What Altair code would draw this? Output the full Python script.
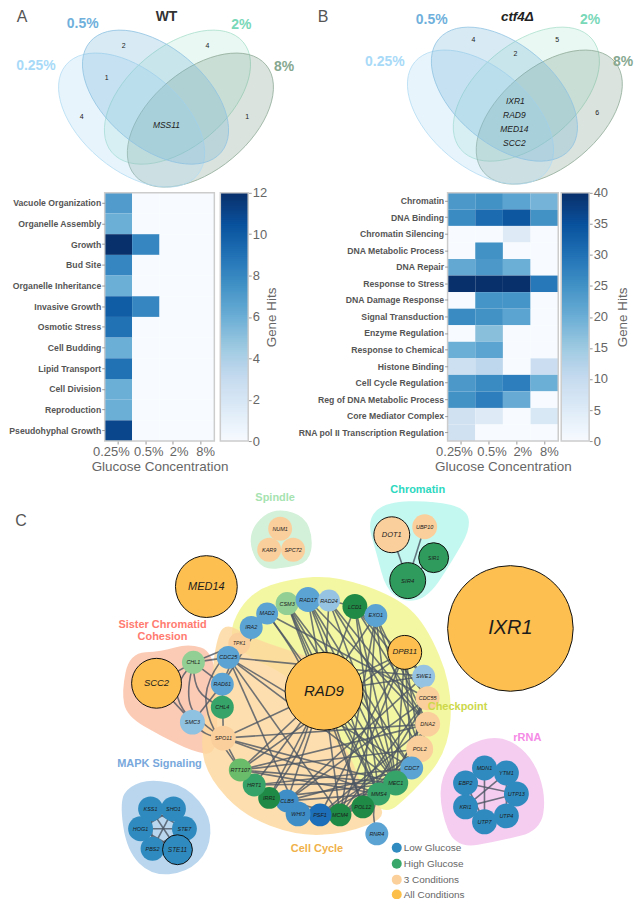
import altair as alt
import numpy as np
import pandas as pd

FONT = "Liberation Sans"
# ---------- heat maps
concs = ["0.25%", "0.5%", "2%", "8%"]
cats_a = ["Vacuole  Organization", "Organelle  Assembly", "Growth", "Bud Site", "Organelle Inheritance",
          "Invasive Growth", "Osmotic Stress", "Cell Budding", "Lipid Transport", "Cell Division",
          "Reproduction", "Pseudohyphal Growth"]
vals_a = [[7, 0, 0, 0], [6, 0, 0, 0], [12, 8, 0, 0], [8, 0, 0, 0], [6, 0, 0, 0], [10, 8, 0, 0],
          [9, 0, 0, 0], [6, 0, 0, 0], [9, 0, 0, 0], [6, 0, 0, 0], [6, 0, 0, 0], [11, 0, 0, 0]]
cats_b = ["Chromatin", "DNA Binding", "Chromatin Silencing", "DNA Metabolic Process", "DNA Repair",
          "Response  to Stress", "DNA Damage Response", "Signal Transduction", "Enzyme Regulation",
          "Response to Chemical", "Histone Binding", "Cell Cycle Regulation", "Reg of DNA Metabolic Process",
          "Core Mediator Complex", "RNA pol II Transcription Regulation"]
vals_b = [[24, 25, 22, 19], [26, 31, 34, 25], [0, 0, 5, 0], [0, 25, 0, 0], [21, 24, 20, 0],
          [40, 40, 40, 29], [0, 24.5, 24.5, 0], [26, 25, 22, 0], [0, 17, 0, 0], [20, 22, 0, 0],
          [8.5, 11, 0, 9], [24, 26, 28, 20], [25, 28, 20.5, 0], [8, 5, 0, 6], [8, 0, 0, 0]]
blues = ["#f7fbff", "#deebf7", "#c6dbef", "#9ecae1", "#6baed6", "#4292c6", "#2171b5", "#08519c", "#08306b"]
GREY = "#666666"

# ---------- venn (image pixel coordinates)
venn_sets = ["0.25%", "0.5%", "2%", "8%"]
venn_fill = ["#a8d8f5", "#6aaed6", "#7fd6b5", "#6a9078"]
venn_line = ["#b4dcf2", "#8fc3e2", "#a9e0cc", "#8fab98"]
venn_alpha = [0.27, 0.26, 0.17, 0.25]
venn_angle = [40, 40, -40, -40]
venn_order = [2, 3, 0, 1]
venn_a_xy = [(130, 118), (154, 95), (176, 95), (199, 118)]
venn_b_xy = [(480, 115), (504, 92), (526, 92), (549, 115)]
venn_colors = ["#a8daf8", "#6fb0dc", "#78d8b8", "#86a890"]
venn_a_lab = [(34, 64), (81, 22), (240, 23), (283, 65)]
venn_b_lab = [(384, 60), (431, 18), (590, 18), (623, 60)]
counts_a = [("2", 122, 44), ("4", 206, 44), ("1", 105, 76), ("4", 80, 115), ("1", 246, 115)]
counts_b = [("4", 473, 38), ("5", 557, 38), ("2", 515, 52), ("6", 597, 111)]
genes_ab = [("MSS11", 165, 123), ("IXR1", 515, 99), ("RAD9", 514, 113), ("MED14", 514, 127), ("SCC2", 514, 141)]

# ---------- network
LB, LB2, LB3, MB = "#5ba3d3", "#97c3e2", "#3f8ec8", "#2f8bbf"
G1, G2, G3, G4 = "#92cf95", "#36a368", "#1f8a45", "#6abb6a"
P, O = "#fbcf9c", "#fdbf4f"
nodes = [
    ("NUM1", 279, 527, 12, P, 0, 5.5), ("KAR9", 268, 548, 12, P, 0, 5.5), ("SPC72", 292, 548, 12, P, 0, 5.5),
    ("DOT1", 391, 533, 18, P, 1, 7.5), ("UBP10", 424, 525, 12.5, P, 0, 5.5), ("SIR1", 433, 556, 15, "#2f9c5e", 1, 5),
    ("SIR4", 407, 579, 18, "#2f9c5e", 1, 6),
    ("MED14", 205, 585, 31, O, 1, 11), ("IXR1", 510, 627, 63, O, 1, 20), ("SCC2", 155, 682, 25, O, 1, 9.5),
    ("CHL1", 192, 661, 11.5, G1, 0, 5.5), ("SMC3", 191, 721, 12.5, "#8fc1e0", 0, 5.5),
    ("TPK1", 238, 642, 11, P, 0, 5), ("IRA2", 250, 626, 11.5, LB, 0, 5.5), ("MAD2", 266, 612, 11, LB, 0, 5.5),
    ("CSM3", 286, 602, 11.5, G1, 0, 5.5), ("RAD17", 307, 598, 12.5, LB, 0, 5.5), ("RAD24", 328, 599, 11, LB2, 0, 5.5),
    ("LCD1", 354, 605, 12.5, G3, 0, 5.5), ("EXO1", 375, 614, 11.5, LB, 0, 5.5), ("DPB11", 404, 651, 17, O, 1, 8),
    ("SWE1", 423, 675, 11.5, LB2, 0, 5.5), ("CDC55", 427, 697, 12, P, 0, 5.5), ("DNA2", 427, 723, 12.5, P, 0, 5.5),
    ("POL2", 419, 748, 13.5, P, 0, 5.5), ("CDC7", 411, 767, 11.5, LB, 0, 5.5), ("MEC1", 395, 782, 12.5, G2, 0, 5.5),
    ("MMS4", 378, 793, 11.5, G2, 0, 5.5), ("POL12", 362, 806, 11.5, G3, 0, 5.5), ("MCM4", 339, 814, 11.5, G3, 0, 5.5),
    ("PSF1", 319, 814, 11.5, "#1c6fb8", 0, 5.5), ("WHI3", 297, 813, 12.5, LB3, 0, 5.5), ("CLB5", 286, 800, 11.5, LB3, 0, 5.5),
    ("IRR1", 268, 797, 11, G3, 0, 5.5), ("HRT1", 253, 784, 11.5, G2, 0, 5.5), ("RTT107", 239, 769, 11.5, G4, 0, 5.5),
    ("SPO11", 222, 737, 12.5, P, 0, 5.5), ("CDC25", 227, 656, 11.5, LB, 0, 5.5), ("RAD61", 221, 683, 11.5, LB, 0, 5.5),
    ("CHL4", 221, 706, 11.5, G2, 0, 5.5), ("RNR4", 376, 833, 11.5, LB, 0, 5.5),
    ("RAD9", 323, 690, 39, O, 1, 15),
    ("KSS1", 149, 808, 12.5, MB, 0, 5.5), ("SHO1", 172, 808, 12.5, MB, 0, 5.5), ("HOG1", 139, 828, 12.5, MB, 0, 5.5),
    ("STE7", 183, 828, 12.5, MB, 0, 5.5), ("PBS2", 151, 848, 12, MB, 0, 5.5), ("STE11", 176, 849, 15, MB, 1, 6.5),
    ("MDN1", 484, 767, 12.5, MB, 0, 5.5), ("YTM1", 506, 772, 12.5, MB, 0, 5.5), ("UTP13", 516, 793, 12.5, MB, 0, 5.5),
    ("UTP4", 506, 815, 12.5, MB, 0, 5.5), ("UTP7", 484, 821, 12.5, MB, 0, 5.5), ("KRI1", 465, 806, 12.5, MB, 0, 5.5),
    ("EBP2", 465, 782, 12.5, MB, 0, 5.5),
]
edge_text = """CSM3-MEC1 CSM3-MMS4 CSM3-POL12 CSM3-CDC7 CSM3-RAD9 RAD17-MEC1 RAD17-MMS4 RAD17-DNA2 RAD17-RAD9 RAD17-RAD24
RAD17-CDC7 RAD24-MEC1 RAD24-RAD9 RAD24-DNA2 RAD24-POL2 LCD1-MEC1 LCD1-EXO1 LCD1-RAD9 LCD1-MMS4 LCD1-DNA2 LCD1-CDC55
LCD1-SWE1 LCD1-RAD24 EXO1-MEC1 EXO1-DNA2 EXO1-MCM4 EXO1-POL12 EXO1-RAD9 EXO1-POL2 DPB11-RAD9 DPB11-POL2 DPB11-MEC1
DPB11-SWE1 DPB11-CDC7 DPB11-PSF1 DPB11-MCM4 SWE1-CDC55 SWE1-CLB5 SWE1-RAD9 SWE1-CDC7 CDC55-MCM4 CDC55-MAD2 CDC55-POL12
DNA2-POL2 DNA2-MEC1 DNA2-MMS4 DNA2-PSF1 DNA2-SPO11 DNA2-RTT107 POL2-MCM4 POL2-POL12 POL2-PSF1 POL2-RTT107 CDC7-MCM4
CDC7-CLB5 CDC7-PSF1 CDC7-HRT1 MEC1-RTT107 MEC1-SPO11 MEC1-IRR1 MEC1-POL12 MEC1-MMS4 MEC1-RAD9 MEC1-HRT1 MMS4-SPO11
MMS4-RTT107 MMS4-CLB5 MMS4-RAD9 POL12-MCM4 POL12-PSF1 POL12-RAD9 MCM4-PSF1 MCM4-CLB5 MCM4-RAD9 PSF1-CLB5 WHI3-CLB5
CLB5-CDC55 CLB5-RAD9 IRR1-RAD9 IRR1-HRT1 HRT1-RAD9 RTT107-RAD9 RTT107-SPO11 RTT107-DPB11 SPO11-RAD9 SPO11-RAD61
SMC3-RAD61 SMC3-SCC2 CHL1-SCC2 CHL1-TPK1 CHL1-CDC25 CHL1-RAD61 RAD61-TPK1 RAD61-MAD2 TPK1-IRA2 TPK1-CDC25 MAD2-CDC25
MAD2-RAD9 CDC25-MCM4 CDC25-MEC1 CDC25-WHI3 CDC25-SWE1 CDC25-CDC7 CDC7-MEC1
SIR4-DOT1 SIR4-UBP10 SIR4-SIR1
KSS1-STE7 SHO1-PBS2 HOG1-STE7 KSS1-PBS2 SHO1-HOG1 STE7-PBS2 HOG1-STE11 PBS2-STE11 KSS1-STE11
EBP2-UTP13 EBP2-KRI1 YTM1-KRI1 KRI1-UTP13 YTM1-UTP4 MDN1-UTP7 KRI1-UTP7 UTP13-UTP4 EBP2-UTP7 UTP7-UTP4"""
bent_edges = [("CHL1", "SPO11", 14), ("SMC3", "CHL1", -12), ("MAD2", "IRR1", -32), ("IRA2", "RTT107", 30),
              ("RNR4", "MEC1", -9), ("CDC7", "POL2", -8), ("CHL1", "CHL4", 8), ("SMC3", "SPO11", 3)]
blobs = {
    "MAPK": ("#b9d6ee", [(118, 800), (128, 785), (150, 778), (185, 785), (210, 815), (208, 850), (185, 872), (150, 875), (125, 850)]),
    "rRNA": ("#f5cdf0", [(440, 775), (462, 745), (500, 733), (532, 755), (546, 795), (540, 830), (500, 840), (455, 848), (440, 810)]),
    "Spindle": ("#d3f0d8", [(280, 507), (304, 515), (312, 537), (308, 560), (287, 566), (262, 568), (250, 550), (249, 530), (262, 513)]),
    "Chromatin": ("#c3f8f0", [(366, 518), (385, 500), (433, 499), (466, 507), (470, 527), (453, 557), (428, 596), (403, 601), (385, 587), (376, 553)]),
    "Sister": ("#fccbb5", [(120, 690), (128, 652), (160, 650), (187, 642), (212, 650), (216, 700), (216, 755), (190, 750), (160, 735), (125, 715)]),
    "Checkpoint": ("#f4f7a2", [(228, 625), (250, 590), (290, 577), (335, 574), (395, 595), (425, 622), (452, 685), (448, 750), (412, 792), (380, 818), (345, 760), (300, 680), (235, 650)]),
    "Cell": ("#fdd89e", [(222, 620), (250, 636), (285, 648), (322, 660), (335, 730), (352, 760), (362, 790), (390, 815), (345, 833), (295, 835), (243, 815), (208, 778), (198, 742), (210, 690), (213, 648)]),
}
blob_order = ["MAPK", "rRNA", "Spindle", "Chromatin", "Checkpoint", "Sister", "Cell"]
group_labels = [("Spindle", 274, 496, "#a6e3b0"), ("Chromatin", 417, 488, "#2dd8c0"),
                ("Sister Chromatid", 161, 624, "#ff7b70"), ("Cohesion", 161, 636, "#ff7b70"),
                ("Checkpoint", 457, 706, "#ccd84a"), ("MAPK Signaling", 158, 763, "#78a8dc"),
                ("Cell Cycle", 316, 848, "#f0b14a"), ("rRNA", 527, 737, "#f58ae6")]
legend_items = [("Low Glucose", 847, "#2f8bc0"), ("High Glucose", 863, "#3aa76a"),
                ("3 Conditions", 879, "#fcd09a"), ("All Conditions", 894, "#fbbf4a")]

X0, X1 = 103, 634
W = X1 - X0
R1_TOP, R1_BOT = 8, 186
R3_TOP, R3_BOT = 472, 899


def pos(top, bot):
    return dict(
        x=alt.X("x:Q", scale=alt.Scale(domain=[X0, X1], range=[0, W], nice=False, zero=False), axis=None),
        y=alt.Y("y:Q", scale=alt.Scale(domain=[top, bot], range=[0, bot - top], nice=False, zero=False), axis=None),
    )


def texts(rows, top, bot, **mark):
    df = pd.DataFrame(rows, columns=["t", "x", "y", "fs", "c"])
    return alt.Chart(df).mark_text(font=FONT, baseline="middle", **mark).encode(
        text="t:N", size=alt.Size("fs:Q", scale=None), color=alt.Color("c:N", scale=None), **pos(top, bot))


def ellipse_path(a, b, deg):
    k = 0.5523
    t = np.radians(deg)
    c, s = np.cos(t), np.sin(t)
    pts = [(-a, 0), (-a, -k * b), (-k * a, -b), (0, -b), (k * a, -b), (a, -k * b), (a, 0),
           (a, k * b), (k * a, b), (0, b), (-k * a, b), (-a, k * b), (-a, 0)]
    r = [(x * c - y * s, x * s + y * c) for x, y in pts]
    f = lambda p: f"{p[0]:.1f} {p[1]:.1f}"
    d = "M" + f(r[0])
    for i in range(1, 13, 3):
        d += "C" + f(r[i]) + " " + f(r[i + 1]) + " " + f(r[i + 2])
    return d + "Z"


def venn_panel_layers():
    top, bot = R1_TOP, R1_BOT
    layers = []
    for xy in (venn_a_xy, venn_b_xy):
        for i in venn_order:
            x, y = xy[i]
            layers.append(alt.Chart(pd.DataFrame({"x": [x], "y": [y]})).mark_point(
                shape=ellipse_path(86, 50, venn_angle[i]), size=4, filled=True, fill=venn_fill[i],
                fillOpacity=venn_alpha[i], stroke=venn_line[i], strokeWidth=0.8,
                strokeOpacity=1, opacity=1).encode(**pos(top, bot)))
    lab = []
    for xy in (venn_a_lab, venn_b_lab):
        for s, (x, y), c in zip(venn_sets, xy, venn_colors):
            lab.append((s, x, y, 14, c))
    layers.append(texts(lab, top, bot, fontWeight="bold"))
    layers.append(texts([(t, x, y, 7, "#222222") for t, x, y in counts_a + counts_b], top, bot))
    layers.append(texts([(t, x, y, 8.5, "#222222") for t, x, y in genes_ab], top, bot, fontStyle="italic"))
    layers.append(texts([("WT", 165, 15, 14, "#333333")], top, bot, fontWeight="bold"))
    layers.append(texts([("ctf4\u0394", 517, 15, 13.5, "#222222")], top, bot, fontWeight="bold", fontStyle="italic"))
    layers.append(texts([("A", 20, 15, 16, "#555555"), ("B", 322, 15, 16, "#555555")], top, bot))
    return alt.layer(*layers).properties(width=W, height=bot - top)


def heat(cats, vals, vmax, w, h):
    stops = [vmax * i / 8 for i in range(9)]
    rows = [{"cat": c, "conc": k, "v": v} for c, row in zip(cats, vals) for k, v in zip(concs, row)]
    off = "datum.label=='0.25%' ? -7 : datum.label=='0.5%' ? 3 : datum.label=='2%' ? 6 : 5"
    rect = alt.Chart(pd.DataFrame(rows)).mark_rect().encode(
        x=alt.X("conc:N", sort=concs, scale=alt.Scale(paddingInner=0, paddingOuter=0), axis=alt.Axis(
            title="Glucose Concentration", labelAngle=0, labelFontSize=13, labelColor=GREY, labelOverlap=False,
            labelFlush=False, labelPadding=2, titleFontSize=13.5, titleFontWeight="normal", titleColor=GREY,
            titlePadding=1, tickSize=3, tickColor="#999999", domain=False, grid=False,
            labelOffset=alt.expr(off))),
        y=alt.Y("cat:N", sort=cats, scale=alt.Scale(paddingInner=0, paddingOuter=0), axis=alt.Axis(
            title=None, labelFontSize=8.7, labelFontWeight="bold", labelColor="#555555", labelLimit=300,
            labelPadding=1, tickSize=3, tickColor="#999999", domain=False, grid=False)),
        color=alt.Color("v:Q", legend=None, scale=alt.Scale(domain=stops, range=blues, clamp=True)),
    )
    frame = alt.Chart(pd.DataFrame({"a": [0]})).mark_rect(fill=None, stroke="#cccccc", strokeWidth=1.5).encode(
        x=alt.value(0), x2=alt.value(w), y=alt.value(0), y2=alt.value(h))
    return alt.layer(rect, frame).properties(width=w, height=h)


def cbar(vmax, step, w, h, pad):
    stops = [vmax * i / 8 for i in range(9)]
    edges = np.linspace(0, vmax, 121)
    d = edges[1] - edges[0]
    df = pd.DataFrame({"lo": edges[:-1], "hi": np.minimum(edges[1:] + d, vmax), "mid": edges[:-1] + d / 2})
    rect = alt.Chart(df).mark_rect().encode(
        x=alt.value(0), x2=alt.value(w),
        y=alt.Y("lo:Q", scale=alt.Scale(domain=[0, vmax], nice=False), axis=alt.Axis(
            orient="right", values=list(range(0, vmax + 1, step)), title="Gene Hits", titleAngle=270,
            titleFontSize=13.5, titleFontWeight="normal", titleColor=GREY, titlePadding=pad, titleBaseline="middle",
            labelFontSize=13, labelColor=GREY, labelPadding=1, tickSize=3, tickColor="#999999", domain=False, grid=False)),
        y2="hi:Q",
        color=alt.Color("mid:Q", legend=None, scale=alt.Scale(domain=stops, range=blues)),
    )
    frame = alt.Chart(pd.DataFrame({"a": [0]})).mark_rect(fill=None, stroke="#cccccc", strokeWidth=1.5).encode(
        x=alt.value(0), x2=alt.value(w), y=alt.value(0), y2=alt.value(h))
    return alt.layer(rect, frame).properties(width=w, height=h)


def spacer(w, h):
    return alt.Chart(pd.DataFrame({"a": [0]})).mark_point(opacity=0, size=1).encode(
        x=alt.value(0), y=alt.value(0)).properties(width=w, height=h)


def blob_layer(name, top, bot):
    color, pts = blobs[name]
    cx = sum(p[0] for p in pts) / len(pts)
    cy = sum(p[1] for p in pts) / len(pts)
    q = [(p[0] - cx, p[1] - cy) for p in pts]
    n = len(q)
    mid = lambda a, b: ((a[0] + b[0]) / 2, (a[1] + b[1]) / 2)
    st = mid(q[0], q[1])
    path = f"M{st[0]:.1f} {st[1]:.1f}"
    for i in range(1, n + 1):
        c = q[i % n]
        m = mid(c, q[(i + 1) % n])
        path += f"Q{c[0]:.1f} {c[1]:.1f} {m[0]:.1f} {m[1]:.1f}"
    path += "Z"
    op = 0.82 if name == "Cell" else 1
    return alt.Chart(pd.DataFrame({"x": [cx], "y": [cy]})).mark_point(
        shape=path, size=4, filled=True, fill=color, fillOpacity=op, strokeWidth=0, opacity=1).encode(**pos(top, bot))


def network():
    top, bot = R3_TOP, R3_BOT
    nd = pd.DataFrame(nodes, columns=["t", "x", "y", "r", "c", "sw", "fs"])
    look = {n[0]: (n[1], n[2]) for n in nodes}
    rows = []
    k = 0
    for pair in edge_text.split():
        a, b = pair.split("-")
        k += 1
        rows += [(k, 0, *look[a]), (k, 2, *look[b])]
    for a, b, bend in bent_edges:
        k += 1
        (x1, y1), (x2, y2) = look[a], look[b]
        d = max(np.hypot(x2 - x1, y2 - y1), 1)
        mx, my = (x1 + x2) / 2 - bend * (y2 - y1) / d * 2, (y1 + y2) / 2 + bend * (x2 - x1) / d * 2
        rows += [(k, 0, x1, y1), (k, 1, mx, my), (k, 2, x2, y2)]
    ed = pd.DataFrame(rows, columns=["e", "i", "x", "y"])
    layers = [blob_layer(n, top, bot) for n in blob_order]
    layers.append(alt.Chart(ed).mark_line(interpolate="basis", color="#4b5563", strokeWidth=1.6, opacity=0.8).encode(
        detail="e:N", order="i:Q", **pos(top, bot)))
    nd["s"] = 4 * nd["r"] ** 2
    layers.append(alt.Chart(nd).mark_circle(stroke="#111111", opacity=1).encode(
        size=alt.Size("s:Q", scale=None), color=alt.Color("c:N", scale=None),
        strokeWidth=alt.StrokeWidth("sw:Q", scale=None), **pos(top, bot)))
    layers.append(texts([(n[0], n[1], n[2], n[6], "#1c1c1c") for n in nodes], top, bot, fontStyle="italic"))
    layers.append(texts([(t, x, y, 11, c) for t, x, y, c in group_labels], top, bot, fontWeight="bold"))
    leg = pd.DataFrame([(396, y, c, 100) for _, y, c in legend_items], columns=["x", "y", "c", "s"])
    layers.append(alt.Chart(leg).mark_circle(opacity=1).encode(
        size=alt.Size("s:Q", scale=None), color=alt.Color("c:N", scale=None), **pos(top, bot)))
    layers.append(texts([(t, 403, y, 10, "#666666") for t, y, _ in legend_items], top, bot, align="left"))
    layers.append(texts([("C", 19, 519, 16, "#555555")], top, bot))
    return alt.layer(*layers).properties(width=W, height=bot - top)


H = 249
row2 = alt.hconcat(
    heat(cats_a, vals_a, 12, 110, H), spacer(6, H), cbar(12, 2, 28, H, 5), spacer(200, H),
    heat(cats_b, vals_b, 40, 111, H), spacer(3, H), cbar(40, 5, 28, H, 15),
    spacing=0, bounds="flush").resolve_scale(color="independent")

chart = alt.vconcat(venn_panel_layers(), row2, network(), spacing=-2, padding=0,
                    background="white").configure_view(stroke=None)

chart.save("out.html", embed_options={"renderer": "svg", "actions": False})
